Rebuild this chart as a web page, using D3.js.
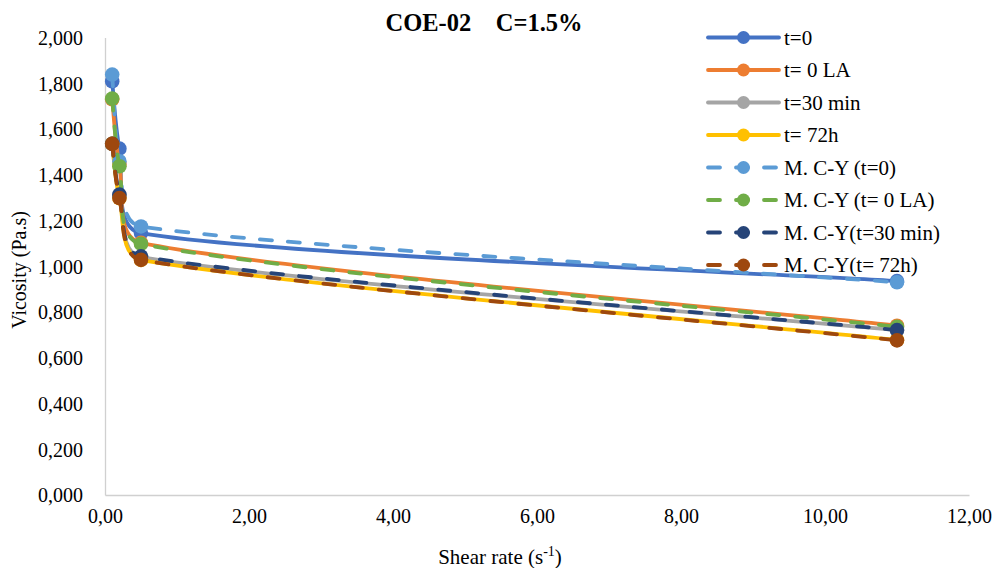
<!DOCTYPE html>
<html>
<head>
<meta charset="utf-8">
<script src="https://cdn.jsdelivr.net/npm/d3@7"></script>
<style>
  body { margin: 0; background: #fff; }
  svg, svg text { font-family: "Liberation Serif", "Tinos", "Times New Roman", Times, "DejaVu Serif", "Noto Serif", serif; }
</style>
</head>
<body>
<svg id="chart" width="997" height="568"></svg>
<script>
// Shear rates (s-1) at which viscosity was measured / modelled
const shearRates = [0.1, 0.2, 0.5, 11];

// Measured viscosity (Pa.s)
const t0     = [1.808, 1.514, 1.145, 0.935];
const t0LA   = [1.730, 1.445, 1.102, 0.740];
const t30    = [1.535, 1.310, 1.040, 0.720];
const t72    = [1.535, 1.298, 1.028, 0.678];
// Carreau-Yasuda model fits (Pa.s)
const cyT0   = [1.838, 1.459, 1.174, 0.930];
const cyT0LA = [1.733, 1.437, 1.098, 0.735];
const cyT30  = [1.535, 1.313, 1.043, 0.721];
const cyT72  = [1.535, 1.298, 1.028, 0.676];

const seriesNames = ["t=0", "t= 0 LA", "t=30 min", "t= 72h",
  "M. C-Y (t=0)", "M. C-Y (t= 0 LA)", "M. C-Y(t=30 min)", "M. C-Y(t= 72h)"];
const seriesValues = [t0, t0LA, t30, t72, cyT0, cyT0LA, cyT30, cyT72];
const seriesColors = ["#4472C4", "#ED7D31", "#A5A5A5", "#FFC000",
  "#5B9BD5", "#70AD47", "#264478", "#9E480E"];
const seriesDashed = [false, false, false, false, true, true, true, true];

const xTicks = [0, 2, 4, 6, 8, 10, 12];
const yTicks = [0, 0.2, 0.4, 0.6, 0.8, 1.0, 1.2, 1.4, 1.6, 1.8, 2.0];

const chartTitle = "COE-02\u00A0\u00A0\u00A0\u00A0C=1.5%";
const yTitle = "Vicosity (Pa.s)";

const FONT = "'Liberation Serif', 'Tinos', 'Times New Roman', Times, 'DejaVu Serif', 'Noto Serif', serif";

// Decimal-comma number formatting
const locale = d3.formatLocale({ decimal: ",", thousands: ".", grouping: [3], currency: ["", ""] });
const fmtX = locale.format(".2f");
const fmtY = locale.format(".3f");

const svg = d3.select("#chart");
const plot = { left: 105, right: 969, top: 37.5, bottom: 495 };

const x = d3.scaleLinear().domain([0, 12]).range([plot.left, plot.right]);
const y = d3.scaleLinear().domain([0, 2]).range([plot.bottom, plot.top]);

const axisColor = "#D0D0D0";
const fontSize = 20;

// Smoothed line: Bezier segments with Catmull-Rom tangents, where each
// control-point offset is limited to a third of its own segment's chord.
function curveSmooth(context) {
  let pts;
  const K = 1 / 3;
  function limit(v, len) {
    const m = Math.hypot(v[0], v[1]);
    if (m > len && m > 0) return [v[0] * len / m, v[1] * len / m];
    return v;
  }
  return {
    areaStart() {}, areaEnd() {},
    lineStart() { pts = []; },
    point(px, py) { pts.push([+px, +py]); },
    lineEnd() {
      const n = pts.length;
      if (!n) return;
      context.moveTo(pts[0][0], pts[0][1]);
      for (let i = 0; i < n - 1; i++) {
        const p0 = pts[Math.max(i - 1, 0)], p1 = pts[i], p2 = pts[i + 1], p3 = pts[Math.min(i + 2, n - 1)];
        const chord = Math.hypot(p2[0] - p1[0], p2[1] - p1[1]);
        const a = limit([(p2[0] - p0[0]) / 6, (p2[1] - p0[1]) / 6], chord * K);
        const b = limit([(p3[0] - p1[0]) / 6, (p3[1] - p1[1]) / 6], chord * K);
        context.bezierCurveTo(p1[0] + a[0], p1[1] + a[1], p2[0] - b[0], p2[1] - b[1], p2[0], p2[1]);
      }
    }
  };
}

// Axes (lines only, no tick marks)
const xAxis = svg.append("g")
  .attr("transform", `translate(0,${plot.bottom})`)
  .call(d3.axisBottom(x).tickValues(xTicks).tickFormat(fmtX).tickSize(0).tickPadding(26));
const yAxis = svg.append("g")
  .attr("transform", `translate(${plot.left},0)`)
  .call(d3.axisLeft(y).tickValues(yTicks).tickFormat(fmtY).tickSize(0).tickPadding(22));

[xAxis, yAxis].forEach(g => {
  g.attr("font-family", FONT).attr("font-size", fontSize);
  g.select(".domain").attr("stroke", axisColor).attr("stroke-width", 1.3);
  g.selectAll("text").attr("fill", "#000");
});
xAxis.selectAll("text").attr("dy", "0.71em").attr("y", 14);
yAxis.selectAll("text").attr("dy", "0.34em");

// Series: smoothed lines with circular markers
const line = d3.line()
  .x((d, i) => x(shearRates[i]))
  .y(d => y(d))
  .curve(curveSmooth);

const lineWidth = 3.8;
const markerR = 7.3;

seriesValues.forEach((vals, s) => {
  const g = svg.append("g").attr("class", "series");
  g.append("path")
    .datum(vals)
    .attr("d", line)
    .attr("fill", "none")
    .attr("stroke", seriesColors[s])
    .attr("stroke-width", lineWidth)
    .attr("stroke-linecap", "round")
    .attr("stroke-linejoin", "round")
    .attr("stroke-dasharray", seriesDashed[s] ? "12,16" : null);
  g.selectAll("circle")
    .data(vals)
    .join("circle")
    .attr("cx", (d, i) => x(shearRates[i]))
    .attr("cy", d => y(d))
    .attr("r", markerR)
    .attr("fill", seriesColors[s]);
});

// Title
svg.append("text")
  .attr("x", 484).attr("y", 31)
  .attr("text-anchor", "middle")
  .attr("font-family", FONT)
  .attr("font-size", 24.5)
  .attr("font-weight", "bold")
  .text(chartTitle);

// Axis titles
svg.append("text")
  .attr("transform", "translate(26,270) rotate(-90)")
  .attr("text-anchor", "middle")
  .attr("font-family", FONT)
  .attr("font-size", fontSize)
  .text(yTitle);

const xt = svg.append("text")
  .attr("x", 500).attr("y", 564)
  .attr("text-anchor", "middle")
  .attr("font-family", FONT)
  .attr("font-size", 21);
xt.append("tspan").text("Shear rate (s");
xt.append("tspan").attr("font-size", 14).attr("dy", -8).text("-1");
xt.append("tspan").attr("dy", 8).text(")");

// Legend
const legend = svg.append("g").attr("class", "legend").attr("font-family", FONT);
const lgX0 = 708, lgX1 = 779, lgY0 = 37.5, lgStep = 32.5;
seriesNames.forEach((name, s) => {
  const yy = lgY0 + s * lgStep;
  const row = legend.append("g").attr("transform", `translate(0,${yy})`);
  row.append("line")
    .attr("x1", lgX0).attr("x2", lgX1).attr("y1", 0).attr("y2", 0)
    .attr("stroke", seriesColors[s])
    .attr("stroke-width", lineWidth)
    .attr("stroke-linecap", "round")
    .attr("stroke-dasharray", seriesDashed[s] ? "12,16" : null);
  row.append("circle")
    .attr("cx", 743.5).attr("cy", 0).attr("r", 6.5)
    .attr("fill", seriesColors[s]);
  row.append("text")
    .attr("x", 784).attr("y", 0).attr("dy", "0.34em")
    .attr("font-size", 21)
    .text(name);
});
</script>
</body>
</html>
